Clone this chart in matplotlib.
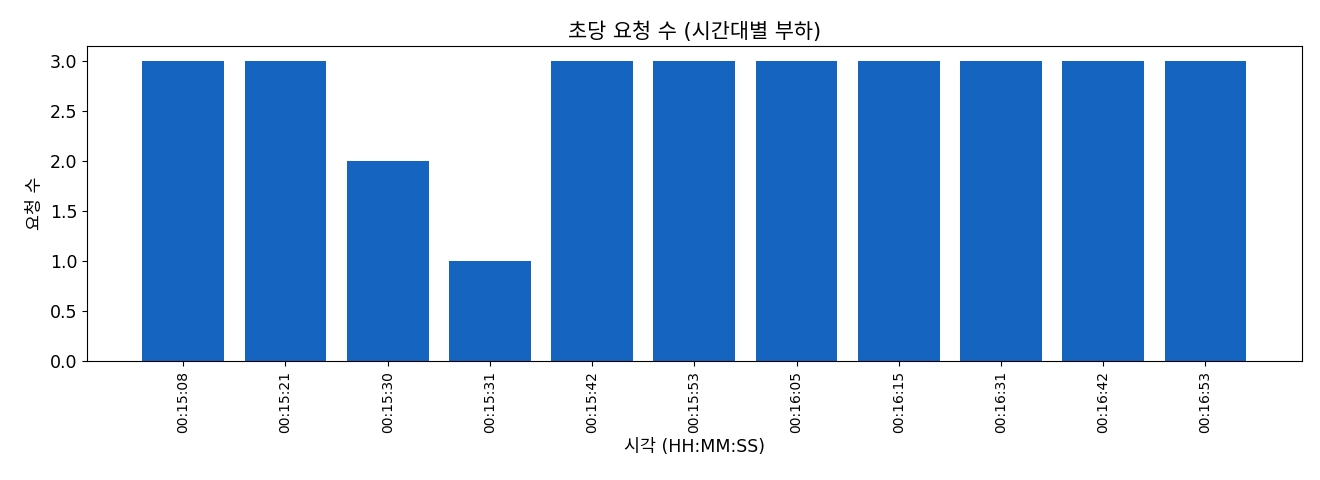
import matplotlib
matplotlib.use("Agg")
import matplotlib.pyplot as plt

plt.rcParams['font.family'] = ['DejaVu Sans', 'Noto Sans CJK KR']

# per-second request counts
times = ["00:15:08", "00:15:21", "00:15:30", "00:15:31", "00:15:42", "00:15:53",
         "00:16:05", "00:16:15", "00:16:31", "00:16:42", "00:16:53"]
counts = [3, 3, 2, 1, 3, 3, 3, 3, 3, 3, 3]

fig = plt.figure(figsize=(13.2, 4.8), dpi=100)
ax = fig.add_axes([0.066, 0.248, 0.92, 0.656])
ax.bar(range(len(times)), counts, color="#1565C0", width=0.8)
ax.set_xticks(range(len(times)))
ax.set_xticklabels(times, rotation=90, fontsize=10)
ax.tick_params(axis='y', labelsize=12.5)
ax.set_title("초당 요청 수 (시간대별 부하)", fontsize=15)
ax.set_xlabel("시각 (HH:MM:SS)", fontsize=12.5)
ax.set_ylabel("요청 수", fontsize=12.5)

fig.savefig("out.png", dpi=100)
